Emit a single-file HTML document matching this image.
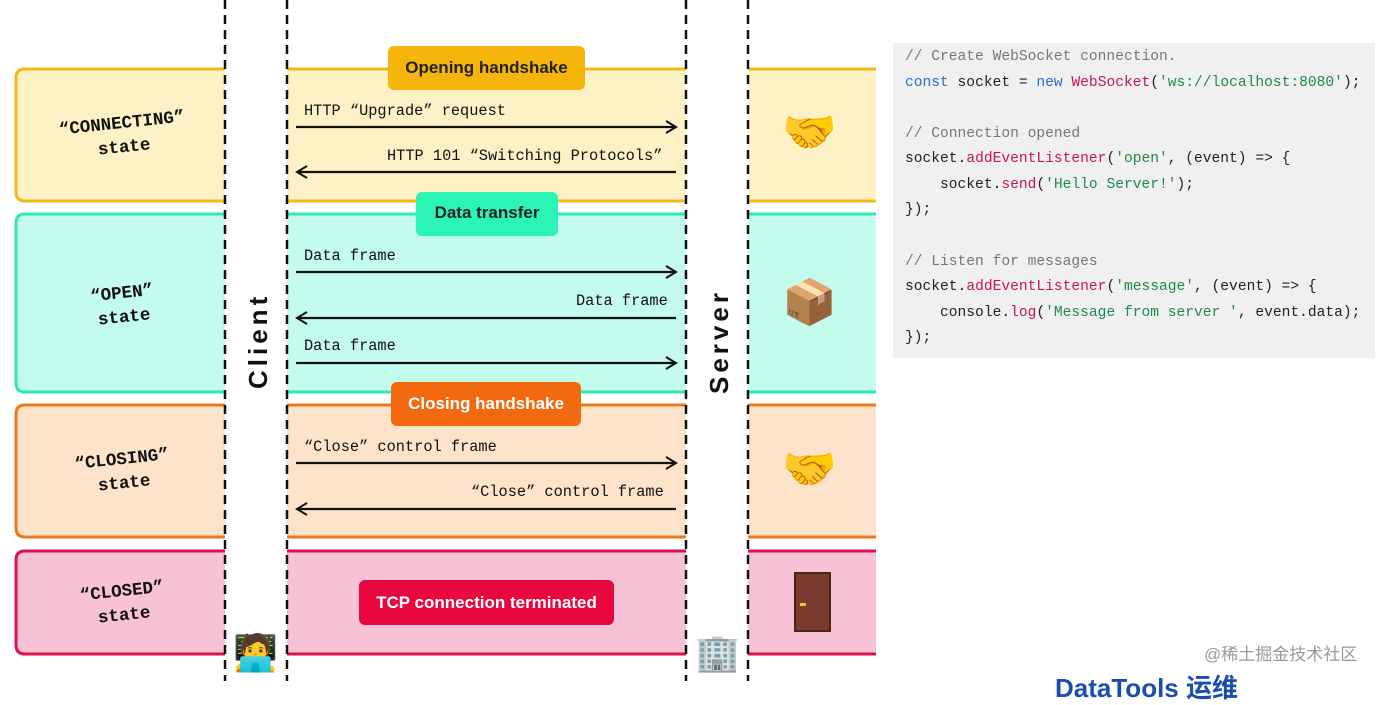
<!DOCTYPE html>
<html><head><meta charset="utf-8"><style>
body{margin:0;width:1385px;height:681px;background:#fff;position:relative;overflow:hidden;font-family:"Liberation Sans",sans-serif}
.a{position:absolute}
.st{position:absolute;width:210px;text-align:center;font-family:"Liberation Mono",monospace;font-weight:bold;font-size:17.5px;line-height:24px;color:#111;transform:rotate(-6deg)}
.lbl{position:absolute;font-family:"Liberation Mono",monospace;font-size:15.3px;color:#111}
.pill{position:absolute;border-radius:6px;font-weight:bold;font-size:17px;text-align:center}
.code{position:absolute;left:893px;top:43px;width:482px;height:315px;background:#f0f0f0;font-family:"Liberation Mono",monospace;font-size:14.6px;color:#222}
.code div{position:absolute;left:12px;white-space:pre}
.c{color:#777}.k{color:#2a6fd0}.f{color:#c4184a}.s{color:#1e8a4a}
.emo{position:absolute;font-size:44px;font-family:"Noto Color Emoji","DejaVu Sans",sans-serif}
</style></head><body>
<svg class="a" style="left:0;top:0" width="1385" height="681">
<defs><marker id="ar" markerWidth="14" markerHeight="14" refX="12" refY="7" orient="auto" markerUnits="userSpaceOnUse"><path d="M2,1 L12,7 L2,13" fill="none" stroke="#111" stroke-width="2"/></marker></defs>
<g stroke-width="3">
<path d="M225,69 H25 Q16,69 16,78 V192 Q16,201 25,201 H225" fill="#fdf1c6" stroke="#f5b916"/>
<rect x="287" y="69" width="399" height="132" fill="#fdf1c6" stroke="none"/><path d="M287,69H686M287,201H686" stroke="#f5b916"/>
<rect x="748" y="69" width="128" height="132" fill="#fdf1c6" stroke="none"/><path d="M748,69H876M748,201H876" stroke="#f5b916"/>
<path d="M225,214 H25 Q16,214 16,223 V383 Q16,392 25,392 H225" fill="#c3fbec" stroke="#2ee8b6"/>
<rect x="287" y="214" width="399" height="178" fill="#c3fbec" stroke="none"/><path d="M287,214H686M287,392H686" stroke="#2ee8b6"/>
<rect x="748" y="214" width="128" height="178" fill="#c3fbec" stroke="none"/><path d="M748,214H876M748,392H876" stroke="#2ee8b6"/>
<path d="M225,405 H25 Q16,405 16,414 V528 Q16,537 25,537 H225" fill="#fde3c9" stroke="#ea7a1e"/>
<rect x="287" y="405" width="399" height="132" fill="#fde3c9" stroke="none"/><path d="M287,405H686M287,537H686" stroke="#ea7a1e"/>
<rect x="748" y="405" width="128" height="132" fill="#fde3c9" stroke="none"/><path d="M748,405H876M748,537H876" stroke="#ea7a1e"/>
<path d="M225,551 H25 Q16,551 16,560 V645 Q16,654 25,654 H225" fill="#f8c2d6" stroke="#e0104a"/>
<rect x="287" y="551" width="399" height="103" fill="#f8c2d6" stroke="none"/><path d="M287,551H686M287,654H686" stroke="#e0104a"/>
<rect x="748" y="551" width="128" height="103" fill="#f8c2d6" stroke="none"/><path d="M748,551H876M748,654H876" stroke="#e0104a"/>
</g>
<g stroke="#111" stroke-width="2.5" stroke-dasharray="9,6">
<line x1="225" y1="0" x2="225" y2="681"/><line x1="287" y1="0" x2="287" y2="681"/>
<line x1="686" y1="0" x2="686" y2="681"/><line x1="748" y1="0" x2="748" y2="681"/>
</g>
<g stroke="#111" stroke-width="2.2" marker-end="url(#ar)">
<line x1="296" y1="127" x2="676" y2="127"/><line x1="676" y1="172" x2="297" y2="172"/>
<line x1="296" y1="272" x2="676" y2="272"/><line x1="676" y1="318" x2="297" y2="318"/>
<line x1="296" y1="363" x2="676" y2="363"/>
<line x1="296" y1="463" x2="676" y2="463"/><line x1="676" y1="509" x2="297" y2="509"/>
</g>
<text x="0" y="0" transform="translate(267,389) rotate(-90)" font-family="Liberation Sans" font-weight="bold" font-size="26" letter-spacing="4" fill="#111">Client</text>
<text x="0" y="0" transform="translate(728,394) rotate(-90)" font-family="Liberation Sans" font-weight="bold" font-size="26" letter-spacing="4" fill="#111">Server</text>
<rect x="795" y="573" width="35" height="58" fill="#7a3b2e" stroke="#4a2418" stroke-width="2"/><rect x="800" y="603" width="6" height="3" fill="#f3c23a"/>
</svg>
<div class="st" style="left:18px;top:112px">“CONNECTING”<br>state</div>
<div class="st" style="left:18px;top:282px">“OPEN”<br>state</div>
<div class="st" style="left:18px;top:448px">“CLOSING”<br>state</div>
<div class="st" style="left:18px;top:580px">“CLOSED”<br>state</div>
<div class="pill" style="left:388px;top:46px;width:197px;height:44px;line-height:44px;background:#f5b50a;color:#222">Opening handshake</div>
<div class="pill" style="left:416px;top:192px;width:142px;height:44px;line-height:42px;background:#2bf5b5;color:#222">Data transfer</div>
<div class="pill" style="left:391px;top:382px;width:190px;height:44px;line-height:44px;background:#f26a10;color:#fff">Closing handshake</div>
<div class="pill" style="left:359px;top:580px;width:255px;height:45px;line-height:45px;background:#e8083e;color:#fff">TCP connection terminated</div>
<div class="lbl" style="left:304px;top:102px">HTTP “Upgrade” request</div>
<div class="lbl" style="left:387px;top:147px">HTTP 101 “Switching Protocols”</div>
<div class="lbl" style="left:304px;top:247px">Data frame</div>
<div class="lbl" style="left:576px;top:292px">Data frame</div>
<div class="lbl" style="left:304px;top:337px">Data frame</div>
<div class="lbl" style="left:304px;top:438px">“Close” control frame</div>
<div class="lbl" style="left:471px;top:483px">“Close” control frame</div>
<div class="emo" style="left:782px;top:106px">🤝</div>
<div class="emo" style="left:782px;top:276px">📦</div>
<div class="emo" style="left:782px;top:443px">🤝</div>
<div class="emo" style="left:233px;top:632px;font-size:36px">🧑‍💻</div>
<div class="emo" style="left:695px;top:632px;font-size:36px">🏢</div>
<div class="code">
<div style="top:6px" class="c">// Create WebSocket connection.</div>
<div style="top:32px"><span class="k">const</span> socket = <span class="k">new</span> <span class="f">WebSocket</span>(<span class="s">'ws://localhost:8080'</span>);</div>
<div style="top:83px" class="c">// Connection opened</div>
<div style="top:108px">socket.<span class="f">addEventListener</span>(<span class="s">'open'</span>, (event) =&gt; {</div>
<div style="top:134px">    socket.<span class="f">send</span>(<span class="s">'Hello Server!'</span>);</div>
<div style="top:159px">});</div>
<div style="top:211px" class="c">// Listen for messages</div>
<div style="top:236px">socket.<span class="f">addEventListener</span>(<span class="s">'message'</span>, (event) =&gt; {</div>
<div style="top:262px">    console.<span class="f">log</span>(<span class="s">'Message from server '</span>, event.data);</div>
<div style="top:287px">});</div>
</div>
<div class="a" style="left:1204px;top:640px;font-size:17px;color:#999;font-family:'Liberation Sans','Noto Sans CJK SC',sans-serif">@稀土掘金技术社区</div>
<div class="a" style="left:1055px;top:668px;font-size:26px;font-weight:bold;color:#1a4fb0;font-family:'Liberation Sans','Noto Sans CJK SC',sans-serif">DataTools 运维</div>
</body></html>
